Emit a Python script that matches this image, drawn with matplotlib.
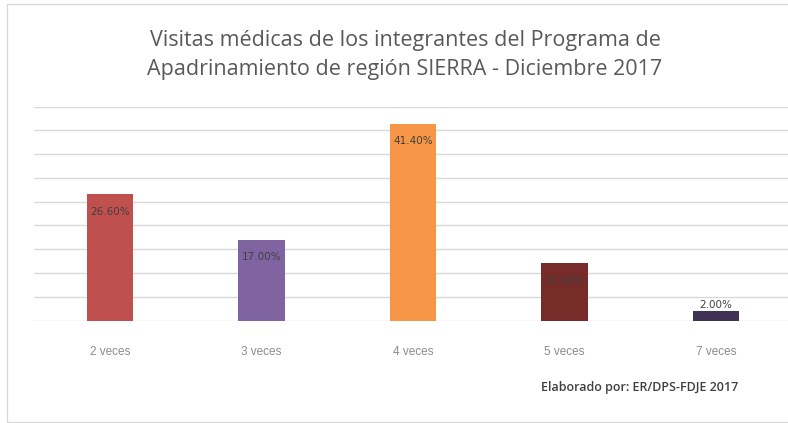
import matplotlib
matplotlib.use("Agg")
import matplotlib.pyplot as plt
from matplotlib.patches import Rectangle

categories = ["2 veces", "3 veces", "4 veces", "5 veces", "7 veces"]
values = [26.60, 17.00, 41.40, 12.00, 2.00]
labels = ["26.60%", "17.00%", "41.40%", "12.00%", "2.00%"]
colors = ["#C0504D", "#8064A2", "#F79646", "#772C2A", "#3F3151"]
title = "Visitas médicas de los integrantes del Programa de\nApadrinamiento de región SIERRA - Diciembre 2017"
source = "Elaborado por: ER/DPS-FDJE 2017"

W, H = 788, 423
fig = plt.figure(figsize=(W / 100, H / 100), dpi=100)
fig.patch.set_facecolor("white")
fig.patches.append(Rectangle((7 / W, 1 - 422 / H), 1.2, (422 - 4) / H,
                             transform=fig.transFigure, fill=False,
                             edgecolor="#D9D9D9", linewidth=1))

left = 34.25 / W
right = 791.75 / W
bottom = 1 - 320.5 / H
top = 1 - 106.7 / H
ax = fig.add_axes([left, bottom, right - left, top - bottom])
ax.set_xlim(-0.5, len(categories) - 0.5)
ax.set_ylim(0, 45)
x = list(range(len(categories)))
ax.bar(x, values, width=0.31, color=colors, zorder=3)
ax.set_yticks(range(0, 46, 5))
ax.yaxis.grid(True, color="#D9D9D9", linewidth=1, zorder=0)
ax.tick_params(axis="y", length=0, labelleft=False)
ax.tick_params(axis="x", length=0, pad=18, labelsize=8.5, labelcolor="#8C8C8C")
ax.set_xticks(x)
ax.set_xticklabels(categories, family="Liberation Sans")
for s in ax.spines.values():
    s.set_visible(False)
ax.set_facecolor("none")

for xi, v, lab in zip(x, values, labels):
    if v > 5:
        ax.annotate(lab, (xi, v), xytext=(0, -9), textcoords="offset points",
                    ha="center", va="top", fontsize=7.5, color="#404040", zorder=4)
    else:
        ax.annotate(lab, (xi, v), xytext=(0, 1), textcoords="offset points",
                    ha="center", va="bottom", fontsize=7.5, color="#404040", zorder=4)

fig.text(405 / W, 1 - 55 / H, title, ha="center", va="center", fontsize=15.5,
         color="#595959", family="Open Sans", linespacing=1.5)
fig.text(640 / W, 1 - 387 / H, source, ha="center", va="center", fontsize=9,
         color="#404040", family="Open Sans", fontweight="semibold")

fig.savefig("out.png", dpi=100)
